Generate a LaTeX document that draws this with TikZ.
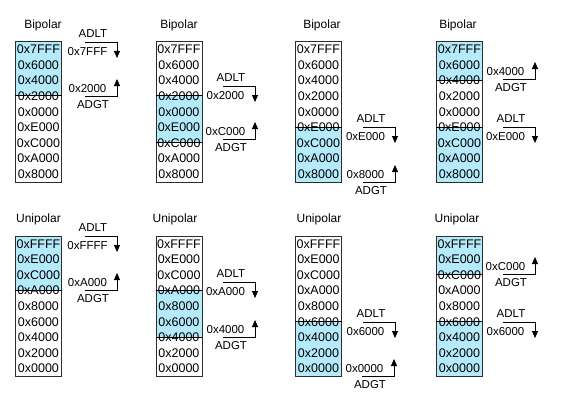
\documentclass[tikz,border=0pt]{standalone}
\usepackage{fontspec}
\setmainfont{Liberation Sans}
\usetikzlibrary{arrows.meta, positioning, backgrounds}
\definecolor{bandblue}{RGB}{180, 234, 250}
\definecolor{boxgray}{RGB}{45, 45, 45}
\newcommand{\biplist}{0x7FFF,0x6000,0x4000,0x2000,0x0000,0xE000,0xC000,0xA000,0x8000}
\newcommand{\unilist}{0xFFFF,0xE000,0xC000,0xA000,0x8000,0x6000,0x4000,0x2000,0x0000}

\begin{document}
\begin{tikzpicture}[
    x=1pt, y=-1pt,
    col/.style={rectangle, draw=boxgray, line width=0.9pt, inner sep=0pt, minimum width=46pt, minimum height=140pt, anchor=north west},
    cell/.style={inner sep=0pt, text height=9pt, text depth=0pt, font=\fontsize{12.5}{14}\selectfont},
    title/.style={inner sep=0pt, text height=8.6pt, text depth=0pt, font=\fontsize{12}{14}\selectfont},
    lbl/.style={inner sep=0pt, text height=8.2pt, text depth=0pt, font=\fontsize{11.5}{13}\selectfont},
    band/.style={fill=bandblue},
    cut/.style={draw=black, line width=0.9pt},
    arrow/.style={-{Triangle[length=7pt, width=6pt]}, line width=0.9pt}
]
    \useasboundingbox (0,0) rectangle (564,404);

    % Columns
    \foreach \p/\xl in {1/15, 2/155.5, 3/295, 4/436} {
        \node[col] (c\p) at (\xl,41.5) {};
        \foreach \v [count=\i] in \biplist
            \node[cell, yshift={-(\i-0.5)*15.556pt}] (c\p-\i) at (c\p.north) {\v};
    }
    \foreach \p/\xl in {5/15, 6/155.5, 7/295, 8/436} {
        \node[col] (c\p) at (\xl,236) {};
        \foreach \v [count=\i] in \unilist
            \node[cell, yshift={-(\i-0.5)*15.556pt}] (c\p-\i) at (c\p.north) {\v};
    }

    % Titles
    \node[title] (t1) at (43,24) {Bipolar};
    \node[title] (t2) at (179,24) {Bipolar};
    \node[title] (t3) at (322,24) {Bipolar};
    \node[title] (t4) at (458,24) {Bipolar};
    \node[title] (t5) at (38.5,218) {Unipolar};
    \node[title] (t6) at (175,218) {Unipolar};
    \node[title] (t7) at (319,218) {Unipolar};
    \node[title] (t8) at (457,218) {Unipolar};

    % Shaded ranges
    \begin{scope}[on background layer]
        \fill[band] (c1.north west) rectangle (c1-4 -| c1.east);
        \fill[band] (c2-4 -| c2.west) rectangle (c2-7 -| c2.east);
        \fill[band] (c3-6 -| c3.west) rectangle (c3.south east);
        \fill[band] (c4.north west) rectangle (c4-3 -| c4.east);
        \fill[band] (c4-6 -| c4.west) rectangle (c4.south east);
        \fill[band] (c5.north west) rectangle (c5-4 -| c5.east);
        \fill[band] (c6-4 -| c6.west) rectangle (c6-7 -| c6.east);
        \fill[band] (c7-6 -| c7.west) rectangle (c7.south east);
        \fill[band] (c8.north west) rectangle (c8-3 -| c8.east);
        \fill[band] (c8-6 -| c8.west) rectangle (c8.south east);
    \end{scope}

    % Range edges
    \draw[cut] (c1-4 -| c1.west) -- (c1-4 -| c1.east);
    \draw[cut] (c2-4 -| c2.west) -- (c2-4 -| c2.east);
    \draw[cut] (c2-7 -| c2.west) -- (c2-7 -| c2.east);
    \draw[cut] (c3-6 -| c3.west) -- (c3-6 -| c3.east);
    \draw[cut] (c4-3 -| c4.west) -- (c4-3 -| c4.east);
    \draw[cut] (c4-6 -| c4.west) -- (c4-6 -| c4.east);
    \draw[cut] (c5-4 -| c5.west) -- (c5-4 -| c5.east);
    \draw[cut] (c6-4 -| c6.west) -- (c6-4 -| c6.east);
    \draw[cut] (c6-7 -| c6.west) -- (c6-7 -| c6.east);
    \draw[cut] (c7-6 -| c7.west) -- (c7-6 -| c7.east);
    \draw[cut] (c8-3 -| c8.west) -- (c8-3 -| c8.east);
    \draw[cut] (c8-6 -| c8.west) -- (c8-6 -| c8.east);

    % Thresholds
    \coordinate (lt1) at (117,42);
    \coordinate (gt1) at (117,96);
    \coordinate (lt2) at (255,86);
    \coordinate (gt2) at (255,139);
    \coordinate (lt3) at (395,127);
    \coordinate (gt3) at (395,182);
    \coordinate (gt4) at (535,79);
    \coordinate (lt4) at (535,127);
    \coordinate (lt5) at (117,236);
    \coordinate (gt5) at (117,290);
    \coordinate (lt6) at (255,282);
    \coordinate (gt6) at (255,337);
    \coordinate (lt7) at (395,322);
    \coordinate (gt7) at (394,376);
    \coordinate (gt8) at (535,274);
    \coordinate (lt8) at (535,322);

    \foreach \k in {1,...,8} {
        \draw[arrow] ([xshift=-32pt]lt\k) -- (lt\k) -- ([yshift=-16pt]lt\k);
        \draw[arrow] ([xshift=-32pt]gt\k) -- (gt\k) -- ([yshift=17pt]gt\k);
        \node[lbl, xshift=-24pt, yshift=8.5pt] (ltn\k) at (lt\k) {ADLT};
        \node[lbl, xshift=-24pt, yshift=-8.5pt] (gtn\k) at (gt\k) {ADGT};
    }

    % Threshold values
    \node[lbl, xshift=-29.5pt, yshift=-9pt] (ltv1) at (lt1) {0x7FFF};
    \node[lbl, xshift=-29.5pt, yshift=8pt] (gtv1) at (gt1) {0x2000};
    \node[lbl, xshift=-29.5pt, yshift=-9pt] (ltv2) at (lt2) {0x2000};
    \node[lbl, xshift=-29.5pt, yshift=8pt] (gtv2) at (gt2) {0xC000};
    \node[lbl, xshift=-29.5pt, yshift=-9pt] (ltv3) at (lt3) {0xE000};
    \node[lbl, xshift=-29.5pt, yshift=8pt] (gtv3) at (gt3) {0x8000};
    \node[lbl, xshift=-29.5pt, yshift=-9pt] (ltv4) at (lt4) {0xE000};
    \node[lbl, xshift=-29.5pt, yshift=8pt] (gtv4) at (gt4) {0x4000};
    \node[lbl, xshift=-29.5pt, yshift=-9pt] (ltv5) at (lt5) {0xFFFF};
    \node[lbl, xshift=-29.5pt, yshift=8pt] (gtv5) at (gt5) {0xA000};
    \node[lbl, xshift=-29.5pt, yshift=-9pt] (ltv6) at (lt6) {0xA000};
    \node[lbl, xshift=-29.5pt, yshift=8pt] (gtv6) at (gt6) {0x4000};
    \node[lbl, xshift=-29.5pt, yshift=-9pt] (ltv7) at (lt7) {0x6000};
    \node[lbl, xshift=-29.5pt, yshift=8pt] (gtv7) at (gt7) {0x0000};
    \node[lbl, xshift=-29.5pt, yshift=-9pt] (ltv8) at (lt8) {0x6000};
    \node[lbl, xshift=-29.5pt, yshift=8pt] (gtv8) at (gt8) {0xC000};
\end{tikzpicture}
\end{document}
